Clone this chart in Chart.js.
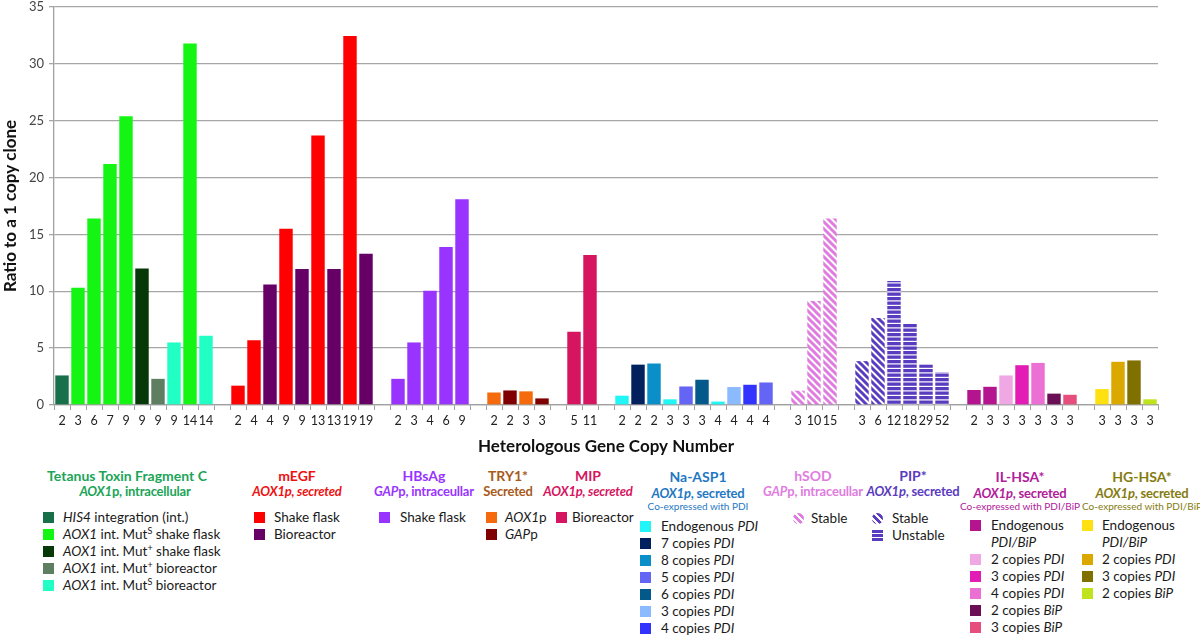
<!DOCTYPE html>
<html>
<head>
<meta charset="utf-8">
<script src="https://cdn.jsdelivr.net/npm/chart.js@4.4.1/dist/chart.umd.min.js"></script>
<style>
  body { margin: 0; background: #fff; font-family: Lato, "Open Sans", sans-serif; }
  #wrap { position: relative; width: 1200px; height: 638px; overflow: hidden; }
  #chartBox { position: absolute; left: 0; top: 0; width: 1200px; height: 460px; }
  .lg { position: absolute; white-space: nowrap; line-height: 17px; }
  .lg sup { font-size: 9px; line-height: 0; vertical-align: 5px; }
  .ttl { font-weight: bold; font-size: 14px; transform: translateX(-50%); }
  .sub { font-weight: bold; font-size: 13px; letter-spacing: -0.2px; transform: translateX(-50%); }
  .sml { font-size: 10px; line-height: 13px; transform: translateX(-50%); }
  .itm { font-size: 13.5px; color: #1a1a1a; }
  .sw { position: absolute; width: 11px; height: 11px; }
</style>
</head>
<body>
<div id="wrap">
  <div id="chartBox"><canvas id="chart"></canvas></div>
  <div id="legend"></div>
</div>
<script>
// copy numbers (x labels), ratio to 1 copy clone, and legend key per bar
const ttfcCopies = [2, 3, 6, 7, 9, 9, 9, 9, 14, 14];
const ttfcRatio  = [2.6, 10.3, 16.4, 21.2, 25.4, 12.0, 2.3, 5.5, 31.8, 6.1];
const ttfcType   = ["his4", "mutS", "mutS", "mutS", "mutS", "mutP", "mutPBio", "mutSBio", "mutS", "mutSBio"];

const egfCopies = [2, 4, 4, 9, 9, 13, 13, 19, 19];
const egfRatio  = [1.7, 5.7, 10.6, 15.5, 11.95, 23.7, 11.95, 32.45, 13.3];
const egfType   = ["egfShake", "egfShake", "egfBio", "egfShake", "egfBio", "egfShake", "egfBio", "egfShake", "egfBio"];

const hbsCopies = [2, 3, 4, 6, 9];
const hbsRatio  = [2.3, 5.5, 10.05, 13.9, 18.1];
const hbsType   = ["hbs", "hbs", "hbs", "hbs", "hbs"];

const tryCopies = [2, 2, 3, 3];
const tryRatio  = [1.1, 1.28, 1.2, 0.58];
const tryType   = ["tryAox", "tryGap", "tryAox", "tryGap"];

const mipCopies = [5, 11];
const mipRatio  = [6.45, 13.2];
const mipType   = ["mip", "mip"];

const aspCopies = [2, 2, 2, 3, 3, 3, 4, 4, 4, 4];
const aspRatio  = [0.82, 3.55, 3.65, 0.5, 1.63, 2.22, 0.3, 1.58, 1.78, 1.98];
const aspType   = ["aspEndo", "asp7", "asp8", "aspEndo", "asp5", "asp6", "aspEndo", "asp3", "asp4", "asp5"];

const sodCopies = [3, 10, 15];
const sodRatio  = [1.26, 9.15, 16.4];
const sodType   = ["sodStable", "sodStable", "sodStable"];

const pipCopies = [3, 6, 12, 18, 29, 52];
const pipRatio  = [3.86, 7.65, 10.9, 7.15, 3.57, 2.9];
const pipType   = ["pipStable", "pipStable", "pipUnstable", "pipUnstable", "pipUnstable", "pipUnstable"];

const ilCopies = [2, 3, 3, 3, 3, 3, 3];
const ilRatio  = [1.32, 1.6, 2.6, 3.5, 3.7, 1.0, 0.9];
const ilType   = ["ilEndo", "ilEndo", "il2", "il3", "il4", "ilB2", "ilB3"];

const hgCopies = [3, 3, 3, 3];
const hgRatio  = [1.4, 3.8, 3.92, 0.5];
const hgType   = ["hgEndo", "hg2", "hg3", "hgB2"];

const yTicks = [0, 5, 10, 15, 20, 25, 30, 35];

function hatch(color, dir) {
  const c = document.createElement("canvas");
  const n = dir === "h" ? 9 : 7;
  c.width = n; c.height = n;
  const g = c.getContext("2d");
  g.fillStyle = "#fff";
  g.fillRect(0, 0, n, n);
  g.fillStyle = color;
  g.strokeStyle = color;
  if (dir === "h") {
    g.fillRect(0, 0, n, 3.3);
    g.fillRect(0, 4.5, n, 3.3);
  } else {
    g.lineWidth = 3.0;
    g.beginPath();
    g.moveTo(-2, -2); g.lineTo(n + 2, n + 2);
    g.moveTo(-2, n - 2); g.lineTo(2, n + 2);
    g.moveTo(n - 2, -2); g.lineTo(n + 2, 2);
    g.stroke();
  }
  return g.createPattern(c, "repeat");
}

const colors = {
  his4: "#17704a", mutS: "#14f514", mutP: "#063808", mutPBio: "#5e7e62", mutSBio: "#22ffc4",
  egfShake: "#ff0000", egfBio: "#660066",
  hbs: "#9933ff",
  tryAox: "#f66a0e", tryGap: "#800000",
  mip: "#d51560",
  aspEndo: "#22f5f5", asp7: "#00215e", asp8: "#0a8fc8", asp5: "#6464f5", asp6: "#035a8a", asp3: "#8cbaff", asp4: "#3333ff",
  sodStable: "#e07ce0", pipStable: "#5a3cc0", pipUnstable: "#5a3cc0",
  ilEndo: "#b5148f", il2: "#f0a8e4", il3: "#e21cb4", il4: "#ec70d4", ilB2: "#6a0e55", ilB3: "#e64f7d",
  hgEndo: "#ffe010", hg2: "#dba800", hg3: "#807000", hgB2: "#bfe31c"
};

const fills = Object.assign({}, colors, {
  sodStable: hatch(colors.sodStable, "d"),
  pipStable: hatch(colors.pipStable, "d"),
  pipUnstable: hatch(colors.pipUnstable, "h")
});

const groups = [
  [ttfcCopies, ttfcRatio, ttfcType],
  [egfCopies, egfRatio, egfType],
  [hbsCopies, hbsRatio, hbsType],
  [tryCopies, tryRatio, tryType],
  [mipCopies, mipRatio, mipType],
  [aspCopies, aspRatio, aspType],
  [sodCopies, sodRatio, sodType],
  [pipCopies, pipRatio, pipType],
  [ilCopies, ilRatio, ilType],
  [hgCopies, hgRatio, hgType]
];

// flatten, one empty category between groups
const labels = [], values = [], barFill = [];
groups.forEach((g, i) => {
  if (i > 0) { labels.push(""); values.push(null); barFill.push("rgba(0,0,0,0)"); }
  g[0].forEach((c, j) => {
    labels.push(String(c));
    values.push(g[1][j]);
    barFill.push(fills[g[2][j]]);
  });
});

const ctx = document.getElementById("chart").getContext("2d");
const chart = new Chart(ctx, {
  type: "bar",
  data: {
    labels: labels,
    datasets: [{
      data: values,
      backgroundColor: barFill,
      borderWidth: 0,
      barPercentage: 0.84,
      categoryPercentage: 1.0
    }]
  },
  options: {
    responsive: true,
    maintainAspectRatio: false,
    animation: false,
    layout: { padding: { top: 7, right: 42, bottom: 0, left: 0 } },
    plugins: { legend: { display: false }, tooltip: { enabled: false } },
    scales: {
      x: {
        offset: true,
        afterFit: (s) => { s.height = 55; },
        grid: { offset: true, drawOnChartArea: false, drawTicks: true, tickLength: 5, color: "#a0a0a0", lineWidth: 1 },
        border: { color: "#a0a0a0", width: 1.3 },
        ticks: { autoSkip: false, maxRotation: 0, minRotation: 0, padding: 3, color: "#222", font: { family: "Lato", size: 12.5 } },
        title: { display: true, text: "Heterologous Gene Copy Number", color: "#111", padding: { top: 0, bottom: 3 }, font: { family: "Lato", size: 17, weight: "bold" } }
      },
      y: {
        min: 0,
        max: 35,
        afterFit: (s) => { s.width = 54; s.paddingTop = 0; s.paddingBottom = 0; },
        afterBuildTicks: (s) => { s.ticks = yTicks.map((v) => ({ value: v })); },
        grid: { color: "#a6a6a6", lineWidth: 1.3, tickLength: 5 },
        border: { color: "#a0a0a0", width: 1.3 },
        ticks: { padding: 5, color: "#444", font: { family: "Lato", size: 13 } },
        title: { display: true, text: "Ratio to a 1 copy clone", color: "#111", padding: { top: 0, bottom: 0 }, font: { family: "Lato", size: 17, weight: "bold" } }
      }
    }
  }
});

// legend blocks below the plot
const legendGroups = [
  { cx: 127, subX: 135, color: "#20a457", title: "Tetanus Toxin Fragment C", sub: "<i>AOX1</i>p, intracellular",
    sw: 43, tx: 63, row: 517, items: [
      ["his4", "<i>HIS4</i> integration (int.)"],
      ["mutS", "<i>AOX1</i> int. Mut<sup>S</sup> shake flask"],
      ["mutP", "<i>AOX1</i> int. Mut<sup>+</sup> shake flask"],
      ["mutPBio", "<i>AOX1</i> int. Mut<sup>+</sup> bioreactor"],
      ["mutSBio", "<i>AOX1</i> int. Mut<sup>S</sup> bioreactor"]] },
  { cx: 297, color: "#ee1111", title: "mEGF", sub: "<i>AOX1p, secreted</i>",
    sw: 254, tx: 274, row: 517, items: [["egfShake", "Shake flask"], ["egfBio", "Bioreactor"]] },
  { cx: 424, color: "#9933ff", title: "HBsAg", sub: "<i>GAP</i>p, intraceullar",
    sw: 379, tx: 400, row: 517, items: [["hbs", "Shake flask"]] },
  { cx: 508, color: "#a85a1c", title: "TRY1*", sub: "Secreted",
    sw: 486, tx: 505, row: 517, items: [["tryAox", "<i>AOX1</i>p"], ["tryGap", "<i>GAP</i>p"]] },
  { cx: 588, color: "#d51560", title: "MIP", sub: "<i>AOX1p, secreted</i>",
    sw: 556, tx: 572, row: 517, items: [["mip", "Bioreactor"]] },
  { cx: 698, color: "#1f78c4", title: "Na-ASP1", sub: "<i>AOX1p</i>, secreted", small: "Co-expressed with PDI",
    sw: 640, tx: 661, row: 526, items: [
      ["aspEndo", "Endogenous <i>PDI</i>"], ["asp7", "7 copies <i>PDI</i>"], ["asp8", "8 copies <i>PDI</i>"],
      ["asp5", "5 copies <i>PDI</i>"], ["asp6", "6 copies <i>PDI</i>"], ["asp3", "3 copies <i>PDI</i>"], ["asp4", "4 copies <i>PDI</i>"]] },
  { cx: 813, color: "#e07ce0", title: "hSOD", sub: "<i>GAP</i>p, intraceullar",
    sw: 793, tx: 811, row: 518, items: [["sodStable", "Stable"]] },
  { cx: 913, color: "#5a3cc0", title: "PIP*", sub: "<i>AOX1p</i>, secreted",
    sw: 872, tx: 892, row: 518, items: [["pipStable", "Stable"], ["pipUnstable", "Unstable"]] },
  { cx: 1020, color: "#b0209a", title: "IL-HSA*", sub: "<i>AOX1p</i>, secreted", small: "Co-expressed with PDI/BiP",
    sw: 970, tx: 991, row: 525.5, items: [
      ["ilEndo", "Endogenous<br><i>PDI/BiP</i>"], ["il2", "2 copies <i>PDI</i>"], ["il3", "3 copies <i>PDI</i>"],
      ["il4", "4 copies <i>PDI</i>"], ["ilB2", "2 copies <i>BiP</i>"], ["ilB3", "3 copies <i>BiP</i>"]] },
  { cx: 1142, color: "#857c10", title: "HG-HSA*", sub: "<i>AOX1p</i>, secreted", small: "Co-expressed with PDI/BiP",
    sw: 1082, tx: 1102, row: 525.5, items: [
      ["hgEndo", "Endogenous<br><i>PDI/BiP</i>"], ["hg2", "2 copies <i>PDI</i>"], ["hg3", "3 copies <i>PDI</i>"], ["hgB2", "2 copies <i>BiP</i>"]] }
];

function swatchCss(key) {
  const c = colors[key];
  if (key === "sodStable" || key === "pipStable") {
    return "background:repeating-linear-gradient(45deg," + c + " 0 3px,#fff 3px 5px);border-radius:50%;";
  }
  if (key === "pipUnstable") {
    return "background:repeating-linear-gradient(180deg," + c + " 0 3px,#fff 3px 4.2px);";
  }
  return "background:" + c + ";";
}

let html = "";
legendGroups.forEach((g) => {
  html += '<div class="lg ttl" style="left:' + g.cx + 'px;top:' + (g.small ? 468 : 466.5) + 'px;color:' + g.color + '">' + g.title + "</div>";
  html += '<div class="lg sub" style="left:' + (g.subX || g.cx) + 'px;top:' + (g.small ? 485 : 483) + 'px;color:' + g.color + '">' + g.sub + "</div>";
  if (g.small) html += '<div class="lg sml" style="left:' + g.cx + 'px;top:500px;color:' + g.color + '">' + g.small + "</div>";
  let y = g.row;
  g.items.forEach((it) => {
    html += '<div class="sw" style="left:' + g.sw + "px;top:" + (y - 5.5) + "px;" + swatchCss(it[0]) + '"></div>';
    html += '<div class="lg itm" style="left:' + g.tx + "px;top:" + (y - 8.5) + 'px">' + it[1] + "</div>";
    y += it[1].indexOf("<br>") >= 0 ? 34 : 17;
  });
});
document.getElementById("legend").innerHTML = html;
</script>
</body>
</html>
